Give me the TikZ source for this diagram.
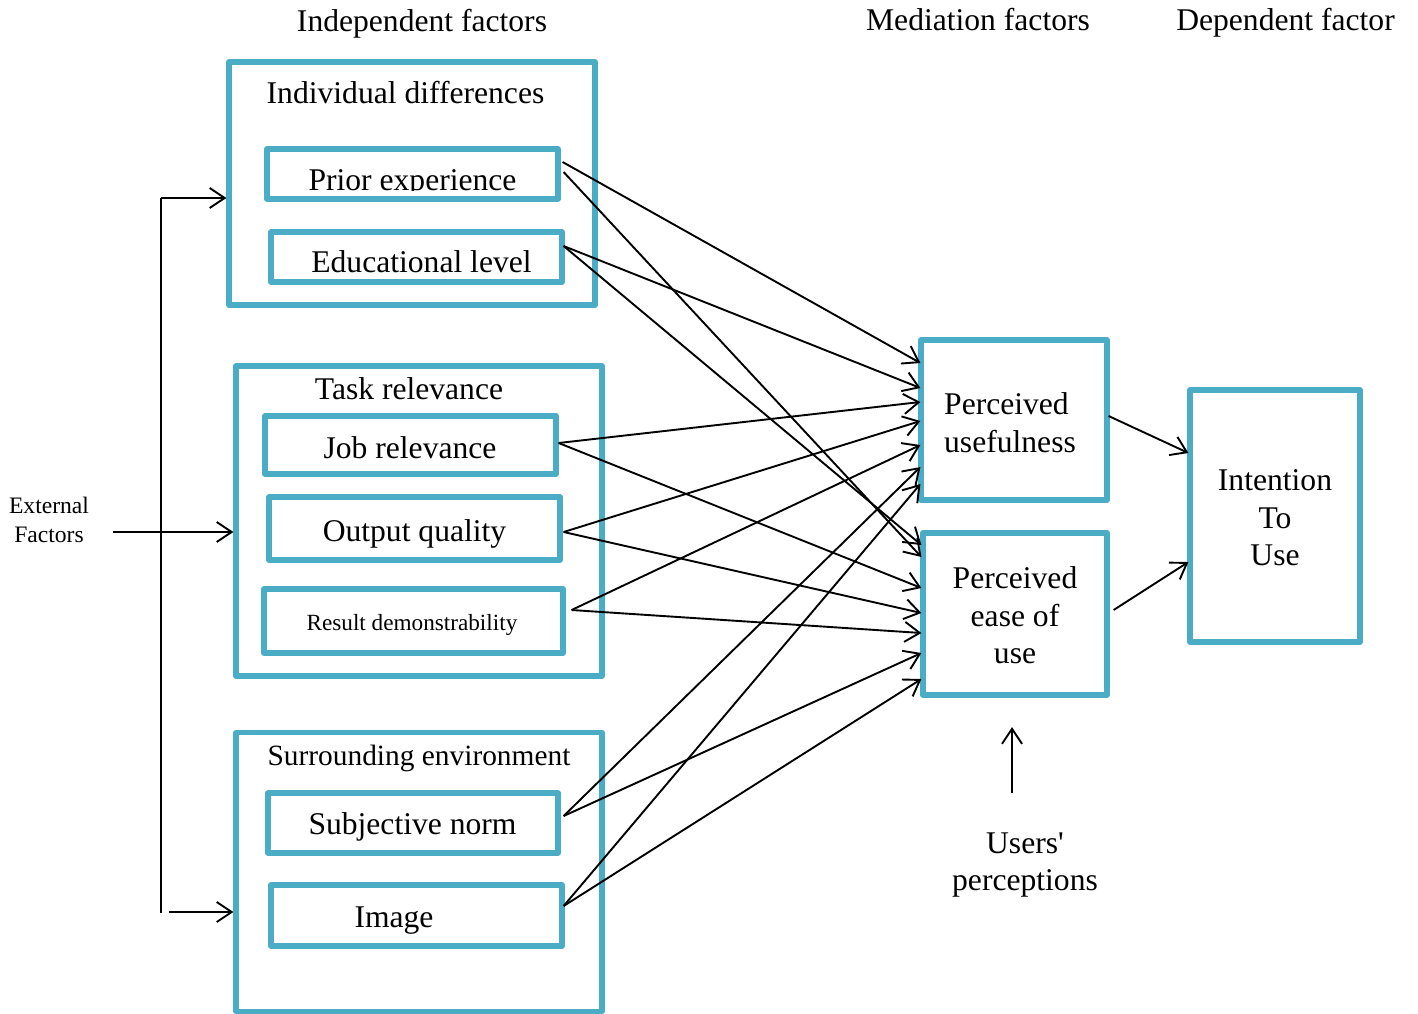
\documentclass[tikz,border=0pt]{standalone}
\usepackage{fontspec}
\setmainfont{Liberation Serif}[Ligatures=TeXOff]
\usetikzlibrary{arrows.meta,calc}
\definecolor{boxblue}{HTML}{4BACC6}
\begin{document}
\begin{tikzpicture}[x=0.5pt,y=-0.5pt,
  bx/.style={draw=boxblue, line width=2.6pt, line join=round, rectangle, inner sep=0pt},
  lbl/.style={inner sep=0pt, font=\fontsize{15.8}{19}\selectfont, anchor=base},
  mlbl/.style={inner sep=0pt, align=center},
  arr/.style={draw=black, line width=0.95pt, -{Straight Barb[length=7.5pt,width=10pt]}}]
\useasboundingbox (0,0) rectangle (1418,1013);

% headers
\node[lbl] (h1) at (422,31) {Independent factors};
\node[lbl] (h2) at (978,30) {Mediation factors};
\node[lbl] (h3) at (1285.5,30) {Dependent factor};

% boxes
\node[bx, minimum width=183pt, minimum height=121.5pt] (id) at (412,183.5) {};
\node[bx, minimum width=145.5pt, minimum height=25pt] (pe) at (412.5,174) {};
\node[bx, minimum width=145.5pt, minimum height=25pt] (el) at (416.5,257) {};
\node[bx, minimum width=183pt, minimum height=155pt] (tr) at (419,521) {};
\node[bx, minimum width=145.5pt, minimum height=29pt] (jr) at (410.5,445) {};
\node[bx, minimum width=145.5pt, minimum height=31.5pt] (oq) at (414.5,528.5) {};
\node[bx, minimum width=149.5pt, minimum height=32pt] (rd) at (413.5,621) {};
\node[bx, minimum width=183pt, minimum height=139.5pt] (se) at (419,872) {};
\node[bx, minimum width=145pt, minimum height=30pt] (sn) at (413,823) {};
\node[bx, minimum width=145.5pt, minimum height=30.5pt] (im) at (416.5,915.5) {};
\node[bx, minimum width=93pt, minimum height=80pt] (pu) at (1014,420) {};
\node[bx, minimum width=92pt, minimum height=81pt] (peou) at (1015,614) {};
\node[bx, minimum width=85pt, minimum height=126pt] (itu) at (1275,516) {};

% labels inside boxes
\node[lbl] (idt) at (405.5,103.5) {Individual differences};
\begin{scope}
  \clip (270,150) rectangle (556,190);
  \node[lbl] (pet) at (412.5,190.5) {Prior experience};
\end{scope}
\node[lbl] (elt) at (421.5,272) {Educational level};
\node[lbl] (trt) at (409,399) {Task relevance};
\node[lbl] (jrt) at (410,458.5) {Job relevance};
\node[lbl] (oqt) at (414.5,541.5) {Output quality};
\node[lbl, font=\fontsize{11.6}{14}\selectfont] (rdt) at (412,630) {Result demonstrability};
\node[lbl, font=\fontsize{14.7}{17}\selectfont] (set) at (419,765) {Surrounding environment};
\node[lbl] (snt) at (412.5,834) {Subjective norm};
\node[lbl] (imt) at (394,927) {Image};

\node[mlbl, align=left, font=\fontsize{15.8}{19}\selectfont] (put) at (1010,422.5) {Perceived\\usefulness};
\node[mlbl, font=\fontsize{15.8}{18.75}\selectfont] (peout) at (1015,615.5) {Perceived\\ease of\\use};
\node[mlbl, font=\fontsize{15.8}{18.75}\selectfont] (itut) at (1275,518) {Intention\\To\\Use};
\node[mlbl, font=\fontsize{11.8}{14.5}\selectfont] (ext) at (49,520) {External\\Factors};
\node[mlbl, font=\fontsize{15.8}{18.5}\selectfont] (upt) at (1025,865.5) {Users'\\perceptions};

% connectors to mediation factors
\draw[arr] ($(pe.east)+(2,-12)$) -- ($(pu.west)+(2,-57)$);
\draw[arr] ($(pe.east)+(3,-2)$) -- ($(peou.west)+(1,-57)$);
\draw[arr] ($(el.east)+(-1,-11)$) -- ($(pu.west)+(2,-32)$);
\draw[arr] ($(el.east)+(-1,-11)$) -- ($(peou.west)+(1,-69)$);
\draw[arr] ($(jr.east)+(0,-2)$) -- ($(pu.west)+(2,-18)$);
\draw[arr] ($(jr.east)+(0,-2)$) -- ($(peou.west)+(1,-26)$);
\draw[arr] ($(oq.east)+(1,3.5)$) -- ($(pu.west)+(2,1)$);
\draw[arr] ($(oq.east)+(1,3.5)$) -- ($(peou.west)+(1,-1)$);
\draw[arr] ($(rd.east)+(6,-11)$) -- ($(pu.west)+(2,25)$);
\draw[arr] ($(rd.east)+(6,-11)$) -- ($(peou.west)+(1,19)$);
\draw[arr] ($(sn.east)+(3,-7)$) -- ($(pu.west)+(2,47)$);
\draw[arr] ($(sn.east)+(3,-7)$) -- ($(peou.west)+(1,39)$);
\draw[arr] ($(im.east)+(-1,-9.5)$) -- ($(pu.west)+(2,64)$);
\draw[arr] ($(im.east)+(-1,-9.5)$) -- ($(peou.west)+(1,65)$);

% to dependent factor
\draw[arr] ($(pu.east)+(-1,-4)$) -- ($(itu.west)+(1,-63)$);
\draw[arr] ($(peou.east)+(4,-4)$) -- ($(itu.west)+(1,46)$);

% users' perceptions
\draw[arr] ($(upt.north)+(-13,-40)$) -- ($(peou.south)+(-3,29.5)$);

% external factors bracket
\coordinate (bt) at (161,198);
\coordinate (bb) at (161,913);
\coordinate (bs) at (169,912);
\coordinate (em) at ($(ext.east)+(24,12)$);
\draw[line width=0.95pt] (bt) -- (bb);
\draw[arr] (bt) -- (bt -| id.west);
\draw[arr] (bs) -- (bs -| se.west);
\draw[arr] (em) -- (em -| tr.west);
\end{tikzpicture}
\end{document}
